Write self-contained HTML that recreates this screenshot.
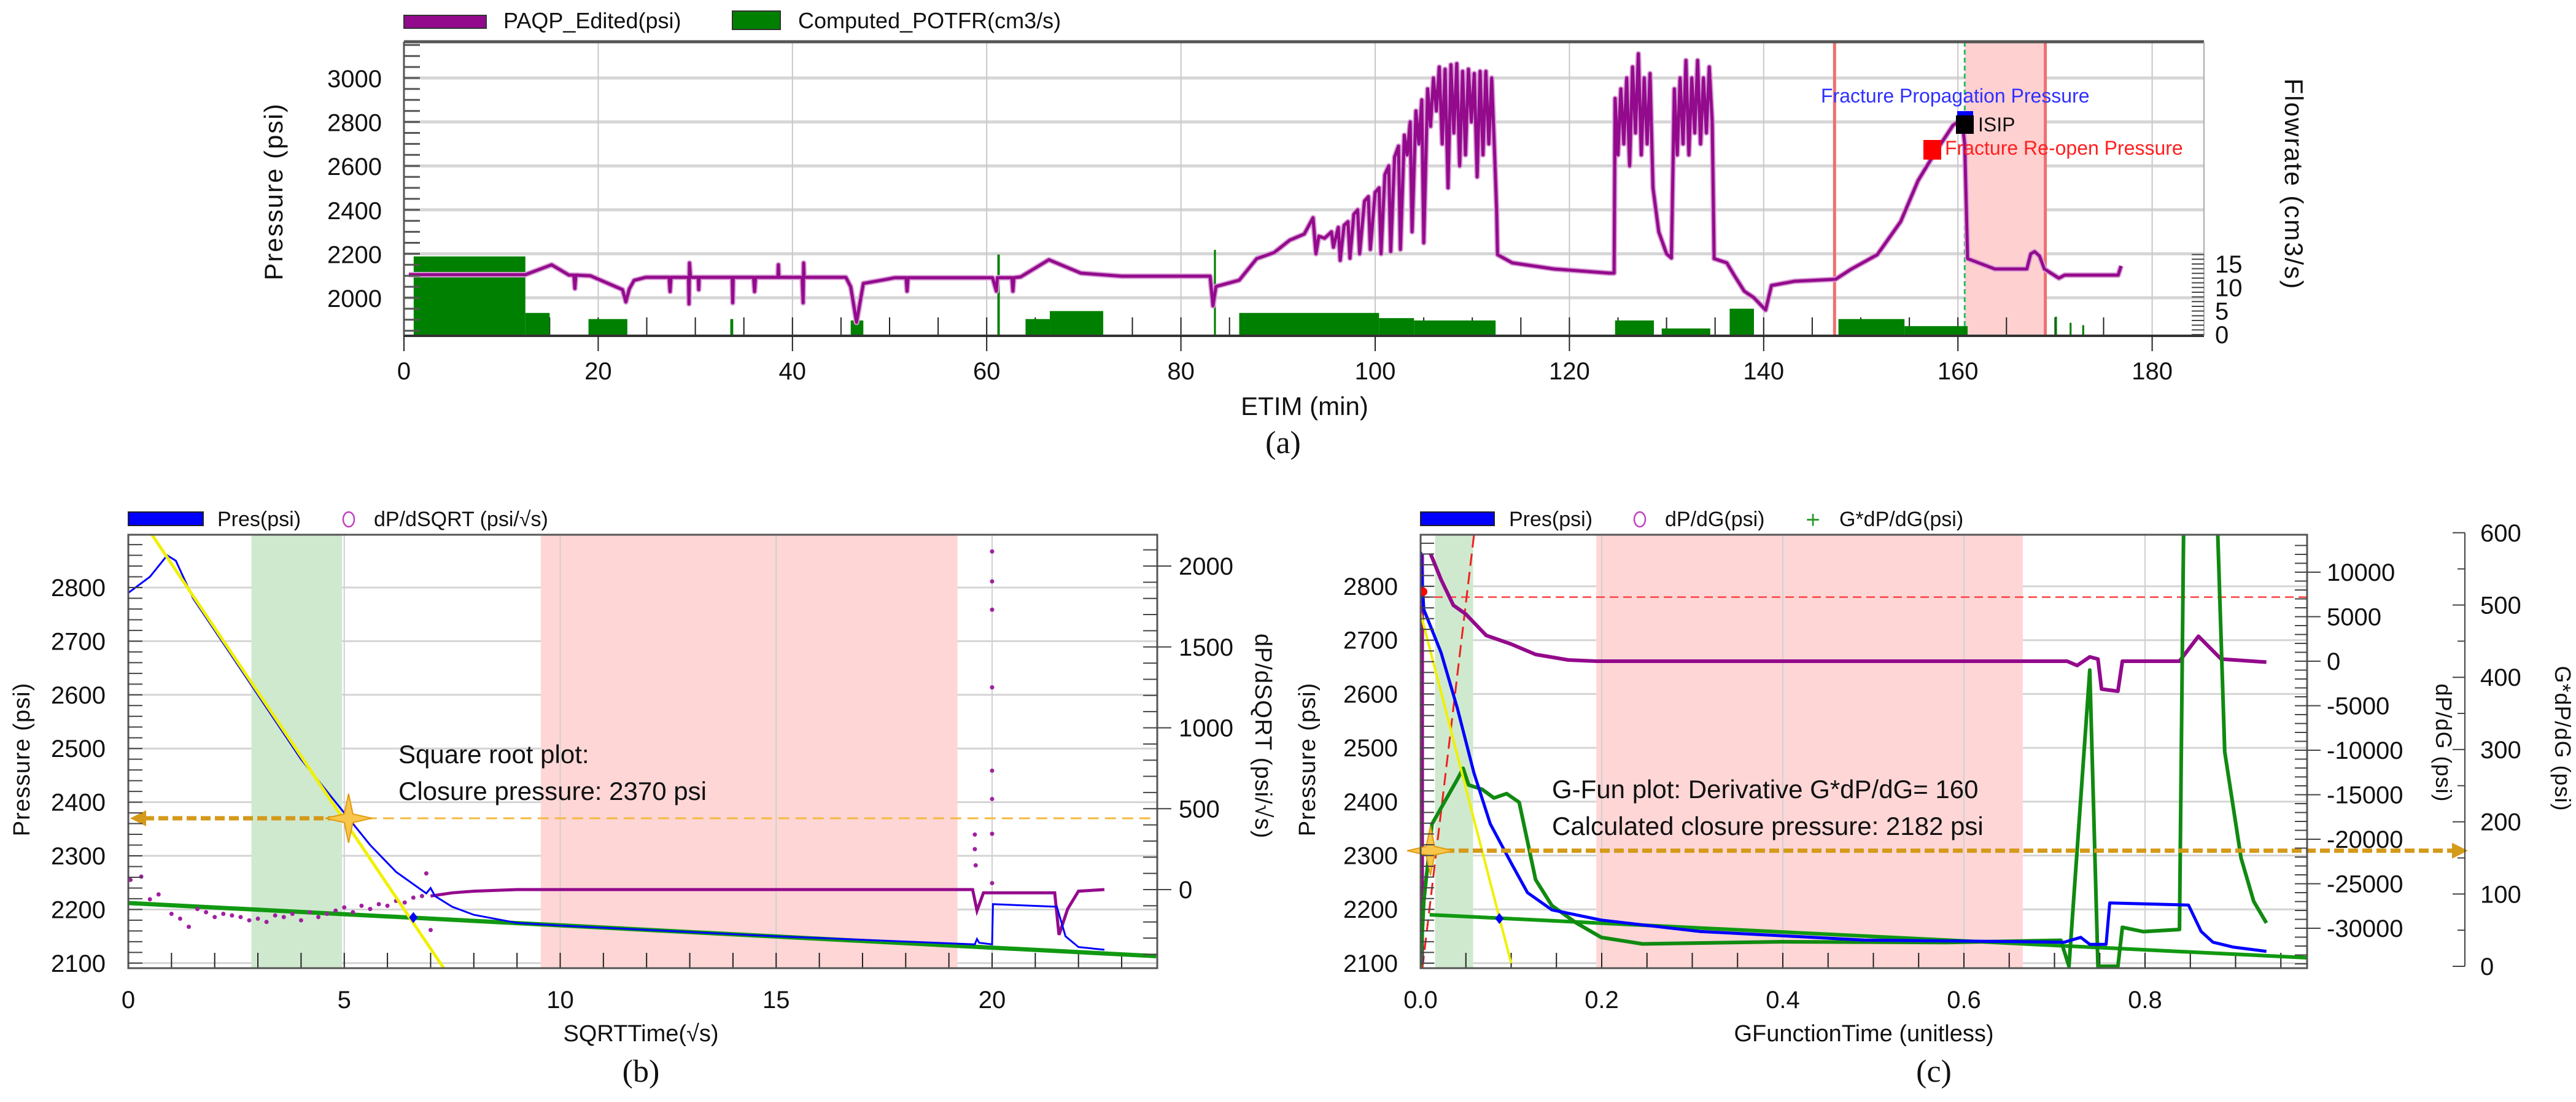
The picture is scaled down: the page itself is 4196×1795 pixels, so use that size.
<!DOCTYPE html>
<html><head><meta charset="utf-8"><style>
html,body{margin:0;padding:0;background:#fff}
svg{display:block}
text{font-family:"Liberation Sans",sans-serif;fill:#111}
.tk{font-size:40px}
.ser{font-family:"Liberation Serif",serif;font-size:52px}
</style></head><body>
<svg id="fig" width="4196" height="1795" viewBox="0 0 4196 1795" xmlns="http://www.w3.org/2000/svg">
<defs>
<clipPath id="clipA"><rect x="658" y="68" width="2932" height="479"/></clipPath>
<clipPath id="clipB"><rect x="209" y="871" width="1676" height="706"/></clipPath>
<clipPath id="clipC"><rect x="2314" y="871" width="1444" height="706"/></clipPath>
</defs>
<g id="gA"></g>
<g id="gB"></g>
<g id="gC"></g>

<g>
<rect x="658" y="25" width="134" height="21" fill="#930a8c" stroke="#333" stroke-width="2"/>
<text x="820" y="46" font-size="36">PAQP_Edited(psi)</text>
<rect x="1193" y="18" width="78" height="30" fill="#008000" stroke="#333" stroke-width="2"/>
<text x="1300" y="46" font-size="36">Computed_POTFR(cm3/s)</text>
</g>
<text x="460" y="312" font-size="42" text-anchor="middle" transform="rotate(-90 460 312)" letter-spacing="2">Pressure (psi)</text>
<text x="3722" y="300" font-size="42" text-anchor="middle" transform="rotate(90 3722 300)" letter-spacing="2">Flowrate (cm3/s)</text>
<text x="2125" y="676" font-size="42" text-anchor="middle">ETIM (min)</text>
<text x="2090" y="738" class="ser" text-anchor="middle">(a)</text>

<g>
<rect x="209" y="834" width="122" height="22" fill="#0000ff" stroke="#222" stroke-width="2"/>
<text x="354" y="857" font-size="34">Pres(psi)</text>
<ellipse cx="568" cy="846" rx="9" ry="12" fill="none" stroke="#c040c0" stroke-width="2.5"/>
<text x="609" y="857" font-size="34">dP/dSQRT (psi/√s)</text>
</g>
<text x="48" y="1237" font-size="38" text-anchor="middle" transform="rotate(-90 48 1237)" letter-spacing="1">Pressure (psi)</text>
<text x="2045" y="1199" font-size="38" text-anchor="middle" transform="rotate(90 2045 1199)" letter-spacing="1">dP/dSQRT (psi/√s)</text>
<text x="1044" y="1696" font-size="38" text-anchor="middle">SQRTTime(√s)</text>
<text x="1044" y="1762" class="ser" text-anchor="middle">(b)</text>
<text x="649" y="1243" font-size="42">Square root plot:</text>
<text x="649" y="1303" font-size="42">Closure pressure: 2370 psi</text>

<g>
<rect x="2314" y="834" width="120" height="22" fill="#0000ff" stroke="#222" stroke-width="2"/>
<text x="2458" y="857" font-size="34">Pres(psi)</text>
<ellipse cx="2671" cy="846" rx="9" ry="12" fill="none" stroke="#c040c0" stroke-width="2.5"/>
<text x="2712" y="857" font-size="34">dP/dG(psi)</text>
<text x="2953" y="860" font-size="40" text-anchor="middle" style="fill:#2a9a2a">+</text>
<text x="2996" y="857" font-size="34">G*dP/dG(psi)</text>
</g>
<text x="2142" y="1237" font-size="38" text-anchor="middle" transform="rotate(-90 2142 1237)" letter-spacing="1">Pressure (psi)</text>
<text x="3968" y="1210" font-size="36" text-anchor="middle" transform="rotate(90 3968 1210)" letter-spacing="1">dP/dG (psi)</text>
<text x="4162" y="1203" font-size="36" text-anchor="middle" transform="rotate(90 4162 1203)" letter-spacing="1">G*dP/dG (psi)</text>
<text x="3036" y="1696" font-size="38" text-anchor="middle">GFunctionTime (unitless)</text>
<text x="3150" y="1762" class="ser" text-anchor="middle">(c)</text>
<text x="2528" y="1300" font-size="42">G-Fun plot:  Derivative G*dP/dG= 160</text>
<text x="2528" y="1360" font-size="42">Calculated  closure pressure: 2182 psi</text>
</svg>
<script>
// ---------- Chart A data ----------
const aTime = [0.5,12.5,15.2,17,17.5,17.6,17.7,19.2,22.5,22.85,23.2,23.7,24.9,27.3,27.4,27.5,29.3,29.35,29.4,29.5,30.3,30.35,30.4,33.8,33.85,33.9,36,36.1,36.2,38.5,38.55,38.6,41,41.1,41.15,41.2,45.5,46,46.6,47.3,49.7,50.5,51.7,51.8,51.9,60.6,61,61.1,62.6,62.7,62.8,63.5,66.4,69.7,73.9,83,83.3,83.6,86,87.8,89.6,91.2,92.7,93.6,93.9,94.2,94.8,
95.5,95.7,96.2,96.4,96.8,97.2,97.4,97.8,98.2,98.4,98.9,99.3,99.5,100.0,100.4,100.6,101.0,101.4,101.6,102.0,102.4,102.6,103.0,103.3,103.6,103.8,104.2,104.5,104.8,105.0,105.4,105.7,106.0,106.3,106.6,106.9,107.2,107.5,107.8,108.1,108.4,108.7,109.0,109.3,109.6,109.9,110.2,110.5,110.8,111.1,111.4,111.7,112.0,112.3,112.5,112.6,114.1,118.4,124.1,124.6,
124.7,125.0,125.3,125.6,125.9,126.2,126.5,126.8,127.1,127.4,127.7,128.0,128.3,128.6,128.9,129.2,129.6,130.0,130.5,130.8,131.1,131.4,131.7,132.0,132.3,132.6,132.9,133.2,133.5,133.8,134.1,134.4,134.7,134.9,136.2,137,138,139,140.2,140.8,143.2,147.4,149,151.7,154.1,155.9,157.7,159.5,160.4,160.7,161,163.8,167.1,167.5,167.9,168.4,168.9,170.4,171,176.5,176.8];
const aPres = [2105,2105,2150,2103,2103,2042,2103,2100,2037,1981,2040,2079,2093,2093,2028,2093,2093,1972,2158,2093,2093,2037,2093,2093,1977,2093,2093,2028,2093,2093,2150,2093,2093,1977,2158,2093,2093,2050,1888,2065,2084,2091,2091,2030,2091,2091,2030,2091,2091,2030,2091,2095,2173,2112,2098,2098,1963,2051,2080,2178,2206,2262,2290,2364,2200,2280,2271,
2300,2230,2320,2170,2330,2346,2180,2380,2400,2200,2440,2460,2220,2480,2500,2200,2560,2600,2210,2640,2690,2220,2740,2650,2800,2300,2850,2700,2900,2250,2950,2780,3000,2850,3050,2700,3040,2500,3060,2750,3065,2600,3030,2650,3040,2800,3020,2550,3030,2650,3030,2700,3000,2650,2400,2196,2159,2131,2112,2112,
2907,2650,2950,2700,3000,2600,3050,2750,3110,2650,3000,2700,3020,2500,2400,2300,2250,2200,2181,2950,2650,3000,2700,3080,2650,3000,2750,3080,2700,3000,2750,3050,2800,2178,2159,2100,2030,2000,1944,2056,2075,2084,2130,2196,2346,2533,2664,2785,2813,2700,2178,2131,2131,2200,2210,2190,2131,2089,2103,2103,2145];
const flowStart = [1,12.5,19,33.6,46,61.1,64,66.5,83.4,86,100.4,104,124.7,129.5,136.5,147.7,154.5,170,171.5,172.8];
const flowEnd   = [12.5,15,23,33.9,47.3,61.35,66.5,72,83.6,100.4,104,112.4,128.7,134.5,139,154.5,161,170.2,171.7,173];
const flowRate  = [16.6,4.6,3.3,3.3,3,17,3.3,5,18,4.6,3.5,3,3,1.3,5.5,3.3,1.8,3.8,2.5,2];
const aXTicks = [0,20,40,60,80,100,120,140,160,180];
const aYTicks = [2000,2200,2400,2600,2800,3000];
const aFlowTicks = [0,5,10,15];

// ---------- Chart B data ----------
const bPresX = [0,0.5,0.9,1.1,1.5,2,3,4,5.1,5.6,6.2,6.9,7.0,7.1,7.5,8,9,10,12,15,19.6,19.65,19.7,20,20.02,21.5,21.7,22,22.6];
const bPresY = [2790,2820,2860,2850,2780,2720,2600,2480,2370,2320,2270,2230,2240,2225,2205,2190,2175,2170,2162,2150,2135,2145,2138,2135,2210,2205,2150,2130,2125];
const bScatX = [0.05,0.3,0.5,0.7,1,1.2,1.4,1.6,1.8,2,2.2,2.4,2.6,2.8,3,3.2,3.4,3.6,3.8,4,4.2,4.4,4.6,4.8,5,5.2,5.4,5.6,5.8,6,6.2,6.4,6.6,6.8,6.9,7.0,19.6,19.6,19.62,20,20,20,20,20,20,20,20];
const bScatV = [60,80,-60,-30,-150,-180,-230,-120,-140,-170,-150,-160,-170,-190,-180,-200,-160,-170,-150,-190,-140,-170,-150,-130,-110,-140,-100,-120,-90,-100,-70,-80,-50,-40,100,-250,340,250,150,2090,1905,1730,1250,735,560,345,40];
const bDenseX = [7.0,7.5,8,9,19.55,19.65,19.8,21.45,21.55,21.75,22,22.6];
const bDenseV = [-40,-20,-10,0,0,-130,-20,-20,-280,-120,-10,0];
const bXTicks = [0,5,10,15,20];
const bYTicks = [2100,2200,2300,2400,2500,2600,2700,2800];
const bY2Ticks = [0,500,1000,1500,2000];

// ---------- Chart C data ----------
const cPresX = [0,0.0035,0.0226,0.0407,0.0588,0.0769,0.0997,0.118,0.145,0.1995,0.308,0.49,0.711,0.729,0.739,0.757,0.761,0.848,0.862,0.875,0.897,0.934];
const cPresY = [2864,2757,2677,2573,2454,2359,2287,2231,2199,2180,2159,2143,2139,2148,2135,2135,2212,2208,2159,2139,2130,2122];
const cDpdgX = [0.011,0.0226,0.0362,0.0497,0.0725,0.0997,0.127,0.163,0.194,0.714,0.725,0.739,0.748,0.752,0.770,0.775,0.838,0.859,0.884,0.934];
const cDpdgV = [12070,9170,6280,5310,2900,1930,760,140,0,0,-480,480,240,-3130,-3370,0,0,2800,240,-100];
const cGX = [0,0.0035,0.0126,0.0262,0.0398,0.047,0.053,0.0678,0.081,0.095,0.1088,0.118,0.127,0.145,0.172,0.1995,0.245,0.399,0.58,0.707,0.716,0.739,0.748,0.77,0.775,0.798,0.838,0.843,0.879,0.888,0.906,0.92,0.934];
const cGV = [0,90,197,227,257,274,251,245,233,239,227,173,120,84,60,40,31,34,33,36,0,410,0,0,54,48,51,650,650,297,150,90,60];
const cXTicks = [0,0.2,0.4,0.6,0.8];
const cYTicks = [2100,2200,2300,2400,2500,2600,2700,2800];
const cY2Ticks = [-30000,-25000,-20000,-15000,-10000,-5000,0,5000,10000];
const cY3Ticks = [0,100,200,300,400,500,600];

// ---------- scales ----------
const ax = t => 658 + t*15.82, ay = p => 127 + (3000-p)*0.358, af = f => 545 - f*7.67;
const bx = t => 209 + t*70.35, by = p => 957 + (2800-p)*0.874, br = v => 1449 - v*0.2635;
const cx = t => 2314 + t*1475, cy = p => 955 + (2800-p)*0.877, cd = v => 1077 - v*0.0145, cg = v => 1574 - v*1.177;

const NS = "http://www.w3.org/2000/svg";
function el(tag, parent, attrs){ const e=document.createElementNS(NS,tag); for(const k in attrs) e.setAttribute(k,attrs[k]); parent.appendChild(e); return e; }
function pts(xs, ys, fx, fy){ return xs.map((x,i)=>fx(x).toFixed(1)+","+fy(ys[i]).toFixed(1)).join(" "); }
function star(parent, x, y){
  return el("path", parent, {d:`M${x},${y-40} L${x+7},${y-7} L${x+38},${y} L${x+7},${y+7} L${x},${y+40} L${x-7},${y+7} L${x-38},${y} L${x-7},${y-7}Z`, fill:"#f7c64a", stroke:"#e09a10", "stroke-width":2});
}

// ===== Chart A =====
const gA = document.getElementById("gA");
for (const p of aYTicks){ const g=el("line",gA,{x1:658,x2:3590,y1:ay(p),y2:ay(p),stroke:"#d6d6d6","stroke-width":5});
  }
for (const t of aXTicks){ const g=el("line",gA,{x1:ax(t),x2:ax(t),y1:68,y2:547,stroke:"#c8c8c8","stroke-width":2});
  }
const shA = el("rect",gA,{x:ax(160.7),y:68,width:ax(169)-ax(160.7),height:479,fill:"#ffd0d0"});
 
const rl1 = el("line",gA,{x1:ax(147.3),x2:ax(147.3),y1:68,y2:547,stroke:"#f07070","stroke-width":5});
 
const rl2 = el("line",gA,{x1:ax(169),x2:ax(169),y1:68,y2:547,stroke:"#f07070","stroke-width":5});
 
const gl = el("line",gA,{x1:ax(160.7),x2:ax(160.7),y1:68,y2:547,stroke:"#20c060","stroke-width":3,"stroke-dasharray":"8,5"});
 
for (let t=5;t<180;t+=5){ const m=el("line",gA,{x1:ax(t),x2:ax(t),y1:547,y2:517,stroke:"#222","stroke-width":2});
  }
const flowG = el("g",gA,{"clip-path":"url(#clipA)"});
 
flowStart.forEach((s,i)=>{ const r=el("rect",flowG,{x:ax(s),y:af(flowRate[i]),width:Math.max(3,ax(flowEnd[i])-ax(s)),height:af(0)-af(flowRate[i])+2,fill:"#008000"});
  });
const pAh = el("polyline",gA,{points:pts(aTime,aPres,ax,ay),fill:"none",stroke:"#d9a0d6","stroke-width":9,"stroke-linejoin":"round","clip-path":"url(#clipA)"});
 
const pA = el("polyline",gA,{points:pts(aTime,aPres,ax,ay),fill:"none",stroke:"#930a8c","stroke-width":5,"stroke-linejoin":"round","clip-path":"url(#clipA)"});
 
const mB = el("rect",gA,{x:3188,y:181,width:26,height:8,fill:"#0000ff"});
 
const mK = el("rect",gA,{x:3186,y:188,width:29,height:30,fill:"#000"});
 
const mR = el("rect",gA,{x:3133,y:228,width:29,height:32,fill:"#ff0000"});
 
let tx = el("text",gA,{x:2966,y:167,"font-size":32,style:"fill:#3030ff"}); tx.textContent="Fracture Propagation Pressure";
 
tx = el("text",gA,{x:3222,y:214,"font-size":32}); tx.textContent="ISIP";
 
tx = el("text",gA,{x:3168,y:252,"font-size":32,style:"fill:#ff2020"}); tx.textContent="Fracture Re-open Pressure";
 
let ln = el("line",gA,{x1:658,x2:3590,y1:68,y2:68,stroke:"#555","stroke-width":5});
 
ln = el("line",gA,{x1:658,x2:658,y1:68,y2:547,stroke:"#555","stroke-width":3});
 
ln = el("line",gA,{x1:658,x2:3590,y1:547,y2:547,stroke:"#333","stroke-width":4});
 
ln = el("line",gA,{x1:3590,x2:3590,y1:68,y2:547,stroke:"#aaa","stroke-width":2});
 
for (let p=1850;p<=3150;p+=50){ const m=el("line",gA,{x1:658,x2:684,y1:ay(p),y2:ay(p),stroke:"#555","stroke-width":3});
  }
for (const p of aYTicks){ const t=el("text",gA,{x:622,y:ay(p)+15,"text-anchor":"end",class:"tk"}); t.textContent=p;
  }
for (const v of aXTicks){ const m=el("line",gA,{x1:ax(v),x2:ax(v),y1:547,y2:572,stroke:"#222","stroke-width":2});
 
const t=el("text",gA,{x:ax(v),y:618,"text-anchor":"middle",class:"tk"}); t.textContent=v;
  }
for (let f=0;f<=17;f++){ const m=el("line",gA,{x1:3570,x2:3590,y1:af(f),y2:af(f),stroke:"#444","stroke-width":2});
  }
for (const f of aFlowTicks){ const t=el("text",gA,{x:3608,y:af(f)+14,class:"tk"}); t.textContent=f;
  }

// ===== Chart B =====
const gB = document.getElementById("gB");
for (const p of bYTicks){ const g=el("line",gB,{x1:209,x2:1885,y1:by(p),y2:by(p),stroke:"#d4d4d4","stroke-width":3});
  }
let rB = el("rect",gB,{x:bx(2.85),y:871,width:bx(4.95)-bx(2.85),height:706,fill:"#cfe9cf"});
 
rB = el("rect",gB,{x:bx(9.55),y:871,width:bx(19.2)-bx(9.55),height:706,fill:"#ffd6d6"});
 
for (const t of bXTicks){ const g=el("line",gB,{x1:bx(t),x2:bx(t),y1:871,y2:1577,stroke:"#d0d0d0","stroke-width":2});
  }
for (let t=1;t<24;t++){ const m=el("line",gB,{x1:bx(t),x2:bx(t),y1:1577,y2:1552,stroke:"#222","stroke-width":2});
  }
const cgB = el("g",gB,{"clip-path":"url(#clipB)"});
 
let l = el("line",cgB,{x1:bx(0),y1:by(2212),x2:bx(23.8),y2:by(2113),stroke:"#119911","stroke-width":7});
 
l = el("polyline",cgB,{points:pts(bDenseX,bDenseV,bx,br),fill:"none",stroke:"#930a8c","stroke-width":5});
 
bScatX.forEach((x,i)=>{ const c=el("circle",cgB,{cx:bx(x),cy:br(bScatV[i]),r:3.5,fill:"#a020a0"});
  });
l = el("polyline",cgB,{points:pts(bPresX,bPresY,bx,by),fill:"none",stroke:"#0000ff","stroke-width":3});
 
l = el("line",cgB,{x1:bx(0.55),y1:by(2898),x2:bx(7.3),y2:by(2091),stroke:"#f0f000","stroke-width":5});
 
l = el("line",gB,{x1:bx(5.1),y1:by(2370),x2:1885,y2:by(2370),stroke:"#f5b940","stroke-width":3,"stroke-dasharray":"18,10"});
 
l = el("line",gB,{x1:235,y1:by(2370),x2:bx(5.1),y2:by(2370),stroke:"#d49a1a","stroke-width":7,"stroke-dasharray":"16,7"});
 
l = el("path",gB,{d:`M212,${by(2370)} L238,${by(2370)-13} L238,${by(2370)+13}Z`,fill:"#d49a1a"});
 
l = star(gB,bx(5.1),by(2370));
 
l = el("path",gB,{d:`M${bx(6.6)},${by(2185)-9} l7,9 l-7,9 l-7,-9Z`,fill:"#0000ff"});
 
l = el("rect",gB,{x:209,y:871,width:1676,height:706,fill:"none",stroke:"#555","stroke-width":3});
 
for (let p=2100;p<=2880;p+=20){ const m=el("line",gB,{x1:209,x2:232,y1:by(p),y2:by(p),stroke:"#444","stroke-width":2});
  }
for (let v=-400;v<=2100;v+=100){ const m=el("line",gB,{x1:1862,x2:1885,y1:br(v),y2:br(v),stroke:"#444","stroke-width":2});
  }
for (const p of bYTicks){ const t=el("text",gB,{x:172,y:by(p)+14,"text-anchor":"end",class:"tk"}); t.textContent=p;
  }
for (const v of bY2Ticks){ const m=el("line",gB,{x1:1885,x2:1908,y1:br(v),y2:br(v),stroke:"#444","stroke-width":2});
 
const t=el("text",gB,{x:1920,y:br(v)+14,class:"tk"}); t.textContent=v;
  }
for (const v of bXTicks){ const t=el("text",gB,{x:bx(v),y:1642,"text-anchor":"middle",class:"tk"}); t.textContent=v;
  }

// ===== Chart C =====
const gC = document.getElementById("gC");
for (const p of cYTicks){ const g=el("line",gC,{x1:2314,x2:3758,y1:cy(p),y2:cy(p),stroke:"#d4d4d4","stroke-width":3});
  }
let rC = el("rect",gC,{x:cx(0.016),y:871,width:cx(0.058)-cx(0.016),height:706,fill:"#cfe9cf"});
 
rC = el("rect",gC,{x:cx(0.194),y:871,width:cx(0.665)-cx(0.194),height:706,fill:"#ffd6d6"});
 
for (const t of cXTicks){ const g=el("line",gC,{x1:cx(t),x2:cx(t),y1:871,y2:1577,stroke:"#d0d0d0","stroke-width":2});
  }
for (let k=1;k<20;k++){ const m=el("line",gC,{x1:cx(k*0.05),x2:cx(k*0.05),y1:1577,y2:1552,stroke:"#222","stroke-width":2});
  }
const cgC = el("g",gC,{"clip-path":"url(#clipC)"});
 
l = el("line",cgC,{x1:2314,y1:cd(7200),x2:3758,y2:cd(7200),stroke:"#ff4040","stroke-width":2.5,"stroke-dasharray":"14,8"});
 
l = el("line",cgC,{x1:cx(0.002),y1:1577,x2:cx(0.059),y2:871,stroke:"#ee2020","stroke-width":3,"stroke-dasharray":"20,10"});
 
l = el("line",cgC,{x1:cx(0.01),y1:cy(2190),x2:cx(0.98),y2:cy(2110),stroke:"#119911","stroke-width":6});
 
l = el("line",cgC,{x1:2317,y1:cy(2100),x2:2317,y2:cy(2860),stroke:"#930a8c","stroke-width":5});
 
l = el("polyline",cgC,{points:pts(cDpdgX,cDpdgV,cx,cd),fill:"none",stroke:"#930a8c","stroke-width":6,"stroke-linejoin":"round"});
 
l = el("polyline",cgC,{points:pts(cGX,cGV,cx,cg),fill:"none",stroke:"#108a10","stroke-width":6,"stroke-linejoin":"round"});
 
l = el("polyline",cgC,{points:pts(cPresX,cPresY,cx,cy),fill:"none",stroke:"#0000ff","stroke-width":5,"stroke-linejoin":"round"});
 
l = el("line",cgC,{x1:cx(0),y1:cy(2750),x2:cx(0.1),y2:cy(2100),stroke:"#f0f000","stroke-width":4});
 
l = el("circle",cgC,{cx:2318,cy:cy(2790),r:7,fill:"#ff0000"});
 
l = el("path",gC,{d:`M${cx(0.087)},${cy(2183)-9} l7,9 l-7,9 l-7,-9Z`,fill:"#0000ff"});
 
l = el("line",gC,{x1:2330,y1:cg(160),x2:3995,y2:cg(160),stroke:"#d49a1a","stroke-width":7,"stroke-dasharray":"16,7"});
 
l = el("path",gC,{d:`M4020,${cg(160)} L3994,${cg(160)-13} L3994,${cg(160)+13}Z`,fill:"#d49a1a"});
 
l = star(gC,2330,cg(160));
 
l = el("rect",gC,{x:2314,y:871,width:1444,height:706,fill:"none",stroke:"#555","stroke-width":3});
 
for (let p=2100;p<=2880;p+=20){ const m=el("line",gC,{x1:2314,x2:2336,y1:cy(p),y2:cy(p),stroke:"#444","stroke-width":2});
  }
for (const p of cYTicks){ const t=el("text",gC,{x:2277,y:cy(p)+14,"text-anchor":"end",class:"tk"}); t.textContent=p;
  }
for (let v=-34000;v<=13000;v+=1000){ const m=el("line",gC,{x1:3738,x2:3758,y1:cd(v),y2:cd(v),stroke:"#444","stroke-width":2});
  }
for (const v of cY2Ticks){ const m=el("line",gC,{x1:3758,x2:3780,y1:cd(v),y2:cd(v),stroke:"#444","stroke-width":2});
 
const t=el("text",gC,{x:3790,y:cd(v)+14,class:"tk"}); t.textContent=v;
  }
l = el("line",gC,{x1:4015,x2:4015,y1:cg(600),y2:cg(0),stroke:"#444","stroke-width":2});
 
for (let v=0;v<=600;v+=50){ const m=el("line",gC,{x1:v%100?4003:3995,x2:4015,y1:cg(v),y2:cg(v),stroke:"#444","stroke-width":2});
  }
for (const v of cY3Ticks){ const t=el("text",gC,{x:4040,y:cg(v)+14,class:"tk"}); t.textContent=v;
  }
for (const v of cXTicks){ const t=el("text",gC,{x:cx(v),y:1642,"text-anchor":"middle",class:"tk"}); t.textContent=v.toFixed(1);
  }
</script>
</body></html>
